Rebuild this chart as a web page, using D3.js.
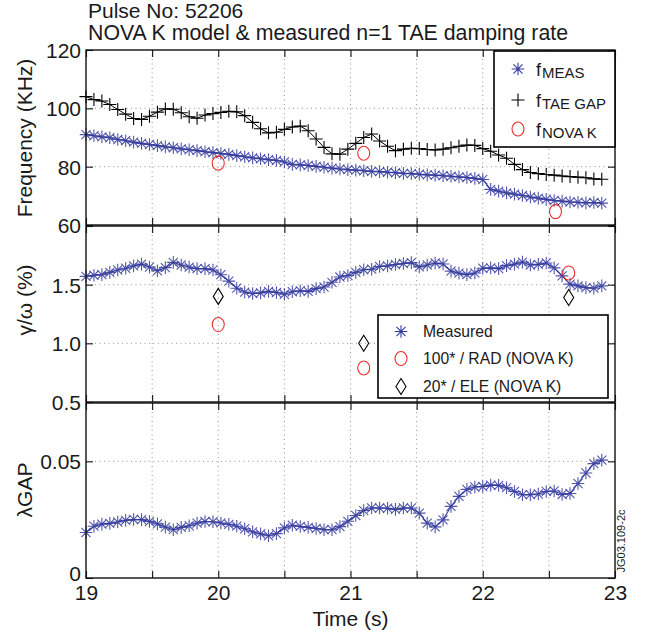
<!DOCTYPE html>
<html>
<head>
<meta charset="utf-8">
<script src="https://cdn.jsdelivr.net/npm/d3@7"></script>
<style>
  html, body { margin: 0; padding: 0; background: #fff; }
  svg { display: block; font-family: "Liberation Sans", Arial, Helvetica, sans-serif; }
</style>
</head>
<body>
<div id="chart"></div>
<script>
// time base (s)
const time = [19.00, 19.06, 19.12, 19.18, 19.24, 19.30, 19.36, 19.42, 19.48, 19.54, 19.60, 19.66, 19.72, 19.78, 19.84, 19.90, 19.96,
  20.02, 20.08, 20.14, 20.20, 20.26, 20.32, 20.38, 20.44, 20.50, 20.56, 20.62, 20.68, 20.74, 20.80, 20.86, 20.92, 20.98,
  21.04, 21.10, 21.16, 21.22, 21.28, 21.34, 21.40, 21.46, 21.52, 21.58, 21.64, 21.70, 21.76, 21.82, 21.88, 21.94,
  22.00, 22.06, 22.12, 22.18, 22.24, 22.30, 22.36, 22.42, 22.48, 22.54, 22.60, 22.66, 22.72, 22.78, 22.84, 22.90]

// top panel: frequencies (kHz)
const fMeas = [91.0, 90.6, 90.2, 89.9, 89.3, 88.9, 88.4, 88.0, 87.6, 87.2, 86.8, 86.5, 86.1, 85.8, 85.5, 85.1, 84.8,
  84.5, 84.2, 83.8, 83.4, 83.0, 82.7, 82.4, 82.1, 81.6, 80.8, 80.6, 80.4, 80.1, 79.8, 79.5, 79.2, 79.0,
  78.8, 78.6, 78.4, 78.3, 78.1, 77.9, 77.7, 77.6, 77.4, 77.2, 77.1, 76.9, 76.7, 76.5, 76.3, 76.0,
  75.6, 72.2, 71.6, 71.0, 70.6, 70.1, 69.6, 69.2, 68.8, 68.4, 68.2, 67.9, 67.8, 67.6, 67.7, 67.5]
const fGap = [104.0, 103.0, 102.5, 101.3, 99.6, 98.0, 96.5, 96.2, 97.3, 98.7, 99.8, 99.7, 98.5, 97.1, 96.6, 97.7, 98.2,
  98.6, 99.0, 98.8, 97.5, 95.2, 93.0, 91.6, 91.8, 92.8, 93.6, 93.9, 92.3, 89.5, 86.6, 84.4, 84.3, 86.0,
  88.0, 90.0, 91.2, 88.8, 87.0, 85.5, 86.0, 86.3, 86.2, 85.9, 85.7, 86.0, 86.5, 87.0, 87.4, 87.3,
  86.2, 85.3, 84.0, 82.9, 80.8, 79.0, 78.0, 77.6, 77.3, 77.1, 76.8, 76.6, 76.4, 76.2, 75.8, 75.7]
const novaFTime = [20.0, 21.1, 22.55]
const fNova = [81.2, 84.6, 64.6]

// middle panel: damping rate gamma/omega (%)
const gMeas = [1.571, 1.580, 1.586, 1.605, 1.625, 1.640, 1.660, 1.675, 1.650, 1.618, 1.645, 1.690, 1.668, 1.650, 1.637, 1.637, 1.625,
  1.585, 1.530, 1.470, 1.437, 1.425, 1.430, 1.443, 1.433, 1.418, 1.440, 1.448, 1.443, 1.466, 1.480, 1.520, 1.565, 1.578,
  1.605, 1.627, 1.632, 1.655, 1.660, 1.672, 1.680, 1.688, 1.652, 1.668, 1.685, 1.676, 1.615, 1.598, 1.586, 1.600,
  1.640, 1.643, 1.637, 1.662, 1.675, 1.692, 1.668, 1.673, 1.685, 1.643, 1.575, 1.505, 1.490, 1.475, 1.470, 1.490]
const novaGTime = [20.0, 21.1, 22.65]
const gRad = [1.16, 0.79, 1.60]
const gEle = [1.40, 1.00, 1.39]

// bottom panel: lambda GAP
const lambdaGap = [0.0195, 0.0222, 0.0231, 0.0234, 0.0240, 0.0247, 0.0251, 0.0250, 0.0242, 0.0232, 0.0218, 0.0207, 0.0217, 0.0224, 0.0235, 0.0242, 0.0241,
  0.0236, 0.0230, 0.0222, 0.0211, 0.0198, 0.0189, 0.0181, 0.0190, 0.0215, 0.0226, 0.0221, 0.0217, 0.0212, 0.0207, 0.0207, 0.0220, 0.0243,
  0.0268, 0.0289, 0.0300, 0.0300, 0.0299, 0.0294, 0.0300, 0.0300, 0.0278, 0.0235, 0.0219, 0.0249, 0.0307, 0.0350, 0.0380, 0.0390,
  0.0392, 0.0398, 0.0397, 0.0387, 0.0371, 0.0357, 0.0357, 0.0360, 0.0371, 0.0373, 0.0358, 0.0362, 0.0405, 0.0450, 0.0490, 0.0505]

const xTicks = [19, 19.5, 20, 20.5, 21, 21.5, 22, 22.5, 23]
const fTicks = [60, 80, 100, 120]
const gTicks = [0.5, 1.0, 1.5, 2.0]
const lTicks = [0, 0.05]

const width = 649, height = 640
const left = 86, right = 615
const blue = '#343a9c', red = '#ee2b2b'

const svg = d3.select('#chart').append('svg')
  .attr('width', width)
  .attr('height', height)

const x = d3.scaleLinear().domain([19, 23]).range([left, right])

const panels = [
  { y: d3.scaleLinear().domain([60, 120]).range([225, 50]), ticks: fTicks, grid: [80, 100], fmt: d => d, top: 50, bottom: 225 },
  { y: d3.scaleLinear().domain([0.5, 2.0]).range([402, 226]), ticks: gTicks, grid: [1.0, 1.5], fmt: d => d === 2 ? '' : d3.format('.1f')(d), top: 226, bottom: 402 },
  { y: d3.scaleLinear().domain([0, 0.075]).range([578, 403]), ticks: lTicks, grid: [0.05], fmt: d => d === 0 ? '0' : d, top: 403, bottom: 578 }
]

function star(r) {
  const a = r * 0.72
  return `M${-r},0H${r}M0,${-r}V${r}M${-a},${-a}L${a},${a}M${-a},${a}L${a},${-a}`
}
function plus(r) {
  return `M${-r},0H${r}M0,${-r}V${r}`
}
const diamond = 'M0,-8L5,0L0,8L-5,0Z'

panels.forEach((p, i) => {
  const g = svg.append('g')

  // dotted grid
  g.selectAll('.vgrid').data(xTicks.slice(1, -1)).join('line')
    .attr('class', 'vgrid')
    .attr('x1', d => x(d)).attr('x2', d => x(d))
    .attr('y1', p.top).attr('y2', p.bottom)
    .attr('stroke', '#8a8a8a').attr('stroke-width', 0.9).attr('stroke-dasharray', '1,3.5')
  g.selectAll('.hgrid').data(p.grid).join('line')
    .attr('class', 'hgrid')
    .attr('x1', left).attr('x2', right)
    .attr('y1', d => p.y(d)).attr('y2', d => p.y(d))
    .attr('stroke', '#8a8a8a').attr('stroke-width', 0.9).attr('stroke-dasharray', '1,3.5')

  // axes, ticks pointing inward
  const yl = g.append('g').attr('transform', `translate(${left},0)`)
    .call(d3.axisLeft(p.y).tickValues(p.ticks).tickSize(-7).tickPadding(5).tickFormat(p.fmt))
  const yr = g.append('g').attr('transform', `translate(${right},0)`)
    .call(d3.axisRight(p.y).tickValues(p.ticks).tickSize(-7).tickFormat(''))
  const xt = g.append('g').attr('transform', `translate(0,${p.top})`)
    .call(d3.axisTop(x).tickValues(xTicks).tickSize(-7).tickFormat(''))
  const xb = g.append('g').attr('transform', `translate(0,${p.bottom})`)
    .call(d3.axisBottom(x).tickValues(xTicks).tickSize(-7).tickPadding(7)
      .tickFormat(d => i === 2 && Number.isInteger(d) ? d : ''))
  ;[yl, yr, xt, xb].forEach(a => {
    a.select('.domain').remove()
    a.selectAll('.tick line').attr('stroke', '#111').attr('stroke-width', 1.1)
    a.selectAll('.tick text').attr('font-size', 21).attr('fill', '#1a1a1a')
      .attr('font-family', '"Liberation Sans", Arial, sans-serif')
  })
  yl.selectAll('.tick text').attr('dy', '0.36em')
  // the 0 of the lowest panel sits just above the time axis labels
  if (i === 2) yl.selectAll('.tick text').filter(d => d === 0).attr('dy', '0.1em')
  xb.selectAll('.tick text').attr('dy', '0.72em')
})

const pF = panels[0], pG = panels[1], pL = panels[2]

function measured(p, values) {
  const g = svg.append('g')
  g.append('path')
    .datum(values)
    .attr('d', d3.line().x((d, i) => x(time[i])).y(d => p.y(d)))
    .attr('fill', 'none').attr('stroke', blue).attr('stroke-width', 1.1)
  g.selectAll('path.mk').data(values).join('path')
    .attr('class', 'mk')
    .attr('transform', (d, i) => `translate(${x(time[i])},${p.y(d)})`)
    .attr('d', star(6.3))
    .attr('fill', 'none').attr('stroke', blue).attr('stroke-width', 1.1)
    .attr('stroke-opacity', 0.85)
}

// TAE gap (black plus)
const gapG = svg.append('g')
gapG.append('path')
  .datum(fGap)
  .attr('d', d3.line().x((d, i) => x(time[i])).y(d => pF.y(d)))
  .attr('fill', 'none').attr('stroke', '#000').attr('stroke-width', 1)
gapG.selectAll('path.mk').data(fGap).join('path')
  .attr('class', 'mk')
  .attr('transform', (d, i) => `translate(${x(time[i])},${pF.y(d)})`)
  .attr('d', plus(6.5))
  .attr('fill', 'none').attr('stroke', '#000').attr('stroke-width', 1.1)

measured(pF, fMeas)
measured(pG, gMeas)
measured(pL, lambdaGap)

// NOVA K points
svg.append('g').selectAll('ellipse').data(fNova).join('ellipse')
  .attr('cx', (d, i) => x(novaFTime[i])).attr('cy', d => pF.y(d))
  .attr('rx', 6).attr('ry', 7)
  .attr('fill', 'none').attr('stroke', red).attr('stroke-width', 1.1)
svg.append('g').selectAll('ellipse').data(gRad).join('ellipse')
  .attr('cx', (d, i) => x(novaGTime[i])).attr('cy', d => pG.y(d))
  .attr('rx', 6).attr('ry', 7)
  .attr('fill', 'none').attr('stroke', red).attr('stroke-width', 1.1)
svg.append('g').selectAll('path').data(gEle).join('path')
  .attr('transform', (d, i) => `translate(${x(novaGTime[i])},${pG.y(d)})`)
  .attr('d', diamond)
  .attr('fill', 'none').attr('stroke', '#000').attr('stroke-width', 1.1)

// panel frames
panels.forEach(p => {
  svg.append('rect')
    .attr('x', left).attr('y', p.top)
    .attr('width', right - left).attr('height', p.bottom - p.top)
    .attr('fill', 'none').attr('stroke', '#111').attr('stroke-width', 1.4)
})

// legend 1 (frequencies)
const leg1 = svg.append('g')
leg1.append('rect').attr('x', 494).attr('y', 51).attr('width', 121).attr('height', 96)
  .attr('fill', '#fff').attr('stroke', '#000').attr('stroke-width', 1.6)
const leg1Rows = [
  { y: 69, sub: 'MEAS', mark: 'star' },
  { y: 100, sub: 'TAE GAP', mark: 'plus' },
  { y: 129, sub: 'NOVA K', mark: 'circle' }
]
leg1Rows.forEach(r => {
  if (r.mark === 'circle') {
    leg1.append('ellipse').attr('cx', 518).attr('cy', r.y).attr('rx', 6).attr('ry', 7)
      .attr('fill', 'none').attr('stroke', red).attr('stroke-width', 1.1)
  } else {
    leg1.append('path').attr('transform', `translate(518,${r.y})`)
      .attr('d', r.mark === 'star' ? star(6.3) : plus(6.5))
      .attr('fill', 'none').attr('stroke', r.mark === 'star' ? blue : '#000').attr('stroke-width', 1.1)
  }
  const t = leg1.append('text').attr('x', 536).attr('y', r.y + 6.5)
    .attr('font-size', 18).attr('fill', '#1a1a1a')
  t.append('tspan').text('f')
  t.append('tspan').attr('dy', 2.5).attr('dx', 1).attr('font-size', 15).text(r.sub)
})

// legend 2 (damping)
const leg2 = svg.append('g')
leg2.append('rect').attr('x', 378).attr('y', 315).attr('width', 230).attr('height', 83)
  .attr('fill', '#fff').attr('stroke', '#000').attr('stroke-width', 1.6)
const leg2Rows = [
  { y: 331.5, label: 'Measured', mark: 'star' },
  { y: 358.5, label: '100* / RAD (NOVA K)', mark: 'circle' },
  { y: 386.5, label: '20* / ELE (NOVA K)', mark: 'diamond' }
]
leg2Rows.forEach(r => {
  if (r.mark === 'circle') {
    leg2.append('ellipse').attr('cx', 401).attr('cy', r.y).attr('rx', 6).attr('ry', 7)
      .attr('fill', 'none').attr('stroke', red).attr('stroke-width', 1.1)
  } else {
    leg2.append('path').attr('transform', `translate(401,${r.y})`)
      .attr('d', r.mark === 'star' ? star(6.3) : diamond)
      .attr('fill', 'none').attr('stroke', r.mark === 'star' ? blue : '#000').attr('stroke-width', 1.1)
  }
  leg2.append('text').attr('x', 423).attr('y', r.y + 5.5)
    .attr('font-size', 15.7).attr('fill', '#1a1a1a').text(r.label)
})

// titles and axis labels
svg.append('text').attr('x', 88).attr('y', 17.5).attr('font-size', 21).attr('fill', '#1a1a1a')
  .text('Pulse No: 52206')
svg.append('text').attr('x', 88).attr('y', 39.5).attr('font-size', 21.3).attr('fill', '#1a1a1a')
  .text('NOVA K model & measured n=1 TAE damping rate')

const yLabels = [
  { text: 'Frequency (KHz)', cy: 138 },
  { text: 'γ/ω (%)', cy: 300 },
  { text: 'λGAP', cy: 490 }
]
yLabels.forEach(l => {
  svg.append('text')
    .attr('transform', `translate(32,${l.cy}) rotate(-90)`)
    .attr('text-anchor', 'middle').attr('font-size', 21).attr('fill', '#1a1a1a')
    .text(l.text)
})

svg.append('text').attr('x', (left + right) / 2).attr('y', 626)
  .attr('text-anchor', 'middle').attr('font-size', 21).attr('fill', '#1a1a1a')
  .text('Time (s)')

svg.append('text')
  .attr('transform', 'translate(625,541) rotate(-90)')
  .attr('text-anchor', 'middle').attr('font-size', 11).attr('fill', '#1a1a1a')
  .text('JG03.109-2c')
</script>
</body>
</html>
